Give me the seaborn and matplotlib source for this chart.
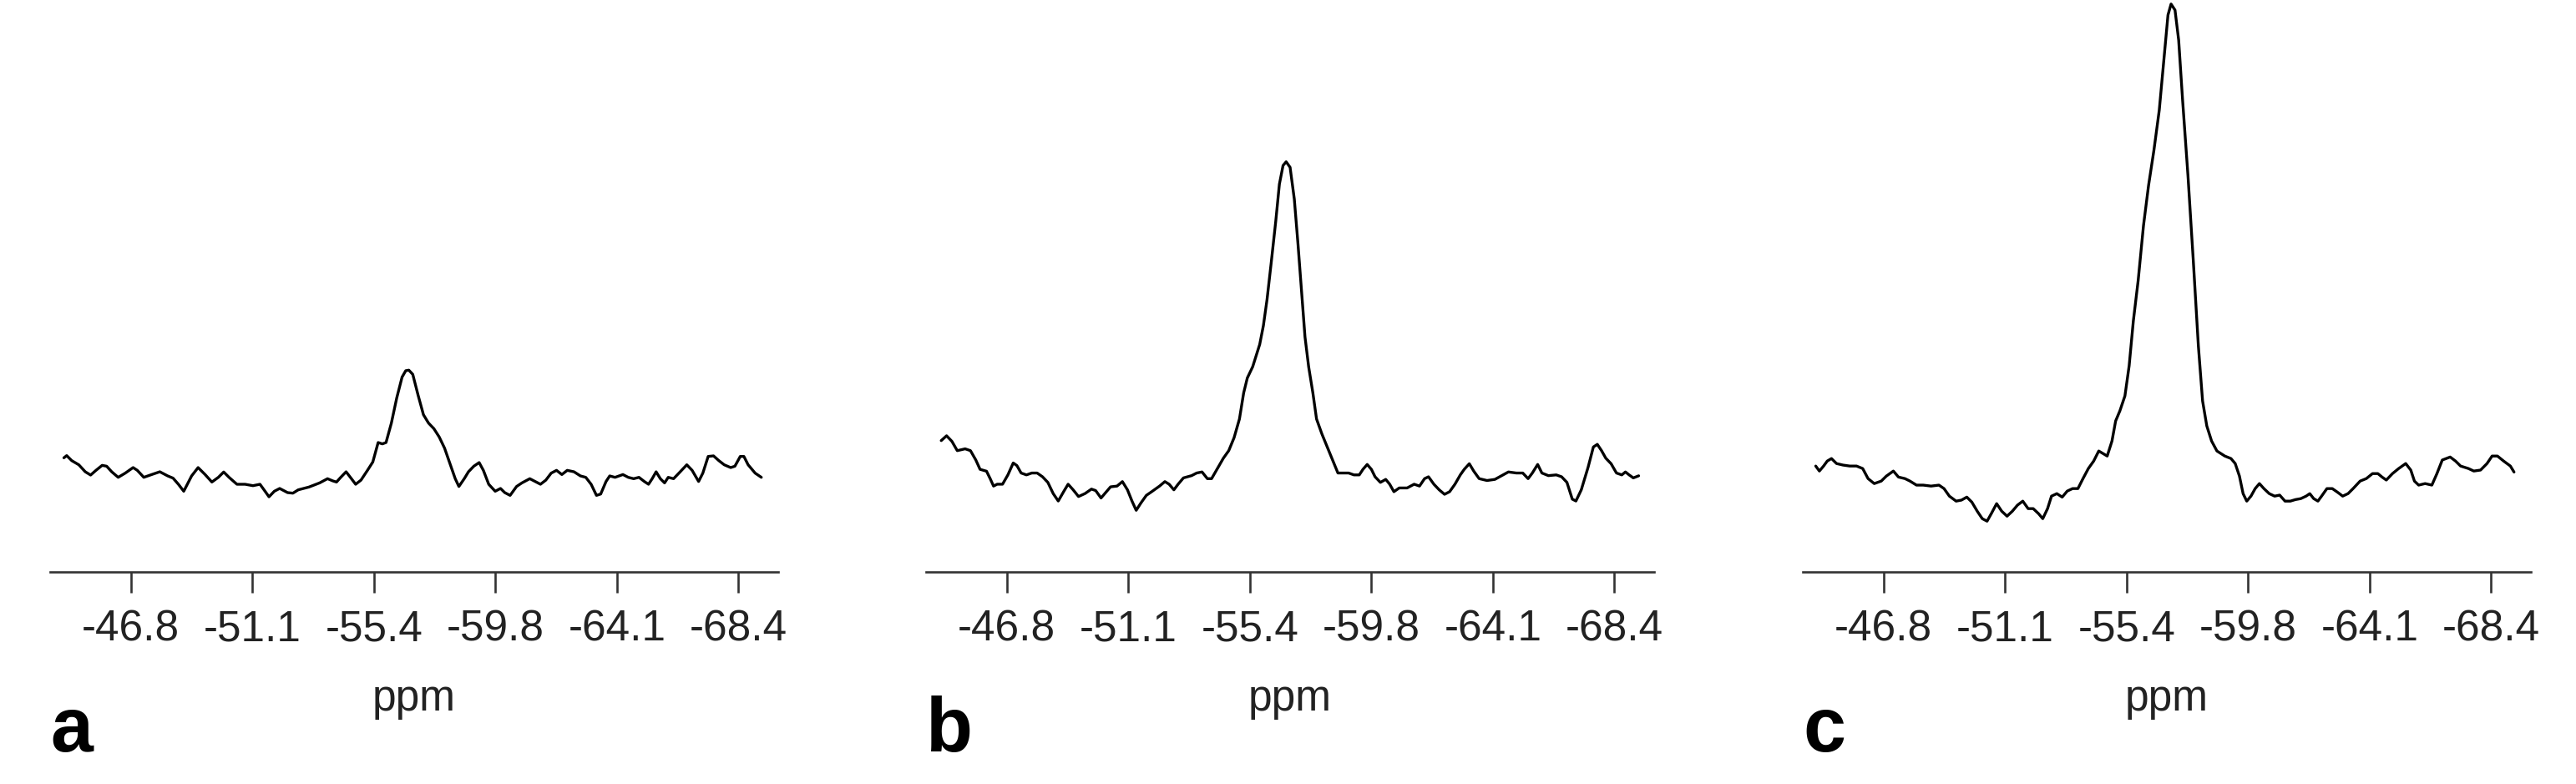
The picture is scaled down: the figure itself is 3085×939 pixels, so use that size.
import numpy as np
import pandas as pd
import matplotlib
matplotlib.use("Agg")
import matplotlib.pyplot as plt
import seaborn as sns

# spectrum a
ppm_a = [-44.42, -44.52, -44.70, -44.95, -45.18, -45.37, -45.56, -45.78, -45.94, -46.12,
         -46.35, -46.60, -46.88, -47.03, -47.26, -47.54, -47.83, -48.11, -48.30, -48.49,
         -48.68, -48.96, -49.19, -49.44, -49.68, -49.91, -50.10, -50.29, -50.57, -50.86,
         -51.14, -51.39, -51.57, -51.71, -51.90, -52.09, -52.37, -52.56, -52.75, -53.13,
         -53.51, -53.79, -53.98, -54.11, -54.26, -54.45, -54.64, -54.79, -54.98, -55.21,
         -55.40, -55.59, -55.74, -55.87, -56.06, -56.25, -56.44, -56.57, -56.68, -56.82,
         -57.01, -57.20, -57.38, -57.57, -57.76, -57.95, -58.14, -58.33, -58.46, -58.65,
         -58.80, -58.99, -59.18, -59.33, -59.52, -59.75, -59.94, -60.09, -60.28, -60.51,
         -60.70, -60.98, -61.17, -61.36, -61.55, -61.74, -61.93, -62.12, -62.31, -62.55,
         -62.78, -62.97, -63.16, -63.35, -63.50, -63.69, -63.82, -64.01, -64.29, -64.48,
         -64.67, -64.86, -65.05, -65.20, -65.33, -65.47, -65.62, -65.77, -65.90, -66.09,
         -66.28, -66.56, -66.75, -66.98, -67.13, -67.32, -67.51, -67.70, -67.89, -68.12,
         -68.27, -68.46, -68.59, -68.74, -68.99, -69.21]
int_a = [3.19, 3.58, 2.69, 1.96, 0.73, 0.15, 0.98, 1.86, 1.71, 0.73,
         -0.25, 0.49, 1.47, 0.98, -0.25, 0.24, 0.73, 0.00, -0.39, -1.47,
         -2.70, 0.00, 1.47, 0.24, -1.08, -0.25, 0.69, -0.25, -1.47, -1.47,
         -1.72, -1.47, -2.70, -3.68, -2.70, -2.21, -2.94, -3.04, -2.45, -1.96,
         -1.23, -0.49, -0.88, -1.08, -0.25, 0.73, -0.49, -1.47, -0.74, 0.98,
         2.45, 5.88, 5.64, 5.88, 9.31, 13.72, 17.40, 18.53, 18.63, 17.89,
         14.21, 10.78, 9.31, 8.33, 6.86, 4.90, 2.20, -0.49, -1.86, -0.49,
         0.73, 1.71, 2.35, 0.98, -1.47, -2.70, -2.21, -2.94, -3.43, -1.86,
         -1.23, -0.49, -0.98, -1.47, -0.74, 0.49, 0.98, 0.24, 0.98, 0.73,
         0.00, -0.25, -1.47, -3.43, -3.19, -0.98, 0.00, -0.25, 0.24, -0.25,
         -0.49, -0.25, -0.98, -1.47, -0.49, 0.73, -0.49, -1.23, -0.25, -0.49,
         0.49, 1.96, 0.98, -0.98, 0.49, 3.43, 3.53, 2.69, 1.96, 1.47,
         1.71, 3.43, 3.43, 1.96, 0.49, -0.25]

# spectrum b
ppm_b = [-44.47, -44.66, -44.85, -45.04, -45.32, -45.51, -45.70, -45.85, -46.08, -46.21,
         -46.33, -46.46, -46.65, -46.84, -47.03, -47.16, -47.31, -47.50, -47.69, -47.88,
         -48.07, -48.26, -48.45, -48.63, -48.82, -48.98, -49.16, -49.35, -49.58, -49.81,
         -49.96, -50.15, -50.34, -50.49, -50.72, -50.91, -51.09, -51.25, -51.40, -51.57,
         -51.76, -51.95, -52.23, -52.42, -52.57, -52.74, -52.89, -53.08, -53.37, -53.55,
         -53.74, -53.93, -54.08, -54.31, -54.50, -54.69, -54.88, -55.07, -55.22, -55.35,
         -55.54, -55.79, -55.92, -56.05, -56.20, -56.36, -56.49, -56.62, -56.73, -56.87,
         -57.02, -57.15, -57.28, -57.40, -57.53, -57.68, -57.81, -58.00, -58.19, -58.38,
         -58.57, -58.76, -58.95, -59.14, -59.33, -59.46, -59.61, -59.76, -59.89, -60.08,
         -60.27, -60.41, -60.56, -60.75, -61.03, -61.28, -61.47, -61.65, -61.79, -61.98,
         -62.17, -62.36, -62.54, -62.73, -62.92, -63.06, -63.24, -63.40, -63.59, -63.87,
         -64.15, -64.44, -64.63, -64.91, -65.14, -65.33, -65.48, -65.67, -65.82, -66.05,
         -66.33, -66.52, -66.71, -66.90, -67.03, -67.22, -67.46, -67.65, -67.79, -67.94,
         -68.09, -68.28, -68.47, -68.66, -68.79, -68.92, -69.07, -69.26]
int_b = [6.22, 7.07, 6.09, 4.45, 4.77, 4.45, 2.80, 1.16, 0.83, -0.48,
         -1.79, -1.46, -1.46, 0.18, 2.28, 1.82, 0.51, 0.18, 0.51, 0.51,
         -0.15, -1.14, -3.11, -4.42, -2.78, -1.46, -2.45, -3.63, -3.11, -2.32,
         -2.58, -3.89, -2.78, -1.92, -1.79, -1.00, -2.45, -4.42, -6.06, -4.75,
         -3.43, -2.78, -1.79, -1.00, -1.46, -2.45, -1.46, -0.35, 0.05, 0.51,
         0.70, -0.48, -0.48, 1.49, 3.13, 4.45, 6.74, 10.03, 14.62, 17.25,
         19.22, 23.16, 26.44, 31.04, 37.60, 44.83, 51.39, 54.67, 55.33, 54.35,
         48.77, 40.89, 32.35, 24.47, 19.22, 14.62, 10.03, 7.40, 5.10, 2.80,
         0.51, 0.51, 0.51, 0.18, 0.18, 1.16, 2.02, 1.16, -0.15, -1.14,
         -0.61, -1.46, -2.78, -2.12, -2.12, -1.46, -1.79, -0.48, -0.15, -1.46,
         -2.45, -3.24, -2.78, -1.46, 0.18, 1.16, 2.15, 0.83, -0.48, -0.81,
         -0.61, 0.18, 0.70, 0.51, 0.51, -0.48, 0.51, 2.02, 0.51, 0.05,
         0.18, -0.15, -1.14, -4.09, -4.42, -2.45, 1.49, 5.10, 5.56, 4.45,
         3.13, 2.15, 0.51, 0.18, 0.70, 0.18, -0.35, 0.02]

# spectrum c
ppm_c = [-44.39, -44.52, -44.67, -44.80, -44.95, -45.13, -45.36, -45.60, -45.84, -46.06,
         -46.25, -46.47, -46.72, -46.90, -47.15, -47.33, -47.56, -47.74, -47.97, -48.21,
         -48.49, -48.77, -48.95, -49.14, -49.38, -49.57, -49.76, -49.94, -50.13, -50.31,
         -50.48, -50.63, -50.82, -51.00, -51.19, -51.38, -51.56, -51.75, -51.94, -52.12,
         -52.31, -52.46, -52.63, -52.77, -52.96, -53.15, -53.33, -53.52, -53.71, -53.89,
         -54.08, -54.27, -54.45, -54.60, -54.75, -54.92, -55.05, -55.20, -55.38, -55.53,
         -55.68, -55.85, -56.04, -56.22, -56.41, -56.60, -56.78, -56.91, -57.02, -57.16,
         -57.29, -57.43, -57.62, -57.81, -57.99, -58.14, -58.29, -58.46, -58.65, -58.93,
         -59.15, -59.30, -59.45, -59.58, -59.71, -59.86, -60.01, -60.16, -60.32, -60.51,
         -60.70, -60.88, -61.07, -61.26, -61.44, -61.63, -61.82, -61.95, -62.09, -62.24,
         -62.37, -62.56, -62.75, -62.93, -63.12, -63.31, -63.49, -63.74, -63.96, -64.18,
         -64.37, -64.52, -64.67, -64.89, -65.11, -65.36, -65.54, -65.67, -65.82, -66.05,
         -66.29, -66.47, -66.66, -66.94, -67.13, -67.31, -67.59, -67.78, -68.02, -68.25,
         -68.43, -68.62, -68.84, -69.08, -69.21]
int_c = [1.74, 0.86, 1.74, 2.62, 3.06, 2.18, 1.91, 1.74, 1.74, 1.30,
         -0.47, -1.35, -0.91, -0.03, 0.86, -0.20, -0.47, -0.91, -1.62, -1.62,
         -1.79, -1.62, -2.23, -3.56, -4.44, -4.26, -3.73, -4.62, -6.21, -7.53,
         -7.97, -6.65, -4.88, -6.21, -7.09, -6.21, -5.15, -4.44, -5.76, -5.76,
         -6.65, -7.53, -5.76, -3.56, -3.12, -3.73, -2.67, -2.23, -2.23, -0.47,
         1.30, 2.62, 4.39, 3.94, 3.50, 6.15, 9.68, 11.45, 14.09, 19.39,
         27.33, 34.39, 44.10, 51.16, 57.34, 64.40, 74.11, 81.17, 83.11, 82.05,
         76.76, 66.17, 52.93, 37.92, 22.92, 13.21, 8.80, 6.15, 4.39, 3.50,
         3.06, 2.18, -0.03, -3.12, -4.44, -3.56, -2.23, -1.35, -2.23, -3.12,
         -3.56, -3.38, -4.44, -4.44, -4.17, -4.00, -3.56, -3.12, -4.00, -4.44,
         -3.56, -2.23, -2.23, -2.85, -3.56, -3.12, -2.23, -0.91, -0.47, 0.41,
         0.41, -0.20, -0.73, 0.41, 1.30, 2.18, 1.03, -0.91, -1.62, -1.35,
         -1.62, 0.41, 2.80, 3.33, 2.62, 1.74, 1.30, 0.86, 1.03, 2.18,
         3.50, 3.50, 2.62, 1.74, 0.68]

tick_ppm = [-46.8, -51.12, -55.44, -59.76, -64.08, -68.4]
tick_labels = ["-46.8", "-51.1", "-55.4", "-59.8", "-64.1", "-68.4"]
panel_letters = ["a", "b", "c"]

sns.set_style("white")
plt.rcParams['font.family'] = ['Liberation Sans', 'DejaVu Sans']

W, H = 3085, 939
fig = plt.figure(figsize=(W / 100, H / 100), dpi=100)

spectra = [(ppm_a, int_a), (ppm_b, int_b), (ppm_c, int_c)]
lefts = [60, 1109, 2159]

for (ppm, inten), left, letter in zip(spectra, lefts, panel_letters):
    ax = fig.add_axes([left / W, (H - 685) / H, 872 / W, 685 / H])
    df = pd.DataFrame({"ppm": ppm, "intensity": inten})
    sns.lineplot(data=df, x="ppm", y="intensity", ax=ax, color="black",
                 linewidth=2.4, estimator=None, sort=False)
    ax.set_xlim(-43.93, -69.81)
    ax.set_ylim(-16.91, 83.82)
    ax.set_yticks([])
    ax.set_ylabel("")
    ax.set_xticks(tick_ppm)
    ax.set_xticklabels(tick_labels)
    ax.tick_params(axis="x", bottom=True, length=18, width=1.9, color="#333333",
                   labelsize=37, labelcolor="#222222", pad=14, direction="out")
    ax.set_xlabel("ppm", fontsize=37, color="#222222", labelpad=25)
    for side in ["left", "top", "right"]:
        ax.spines[side].set_visible(False)
    ax.spines["bottom"].set_linewidth(1.9)
    ax.spines["bottom"].set_color("#333333")
    ax.patch.set_alpha(0)
    fig.text(left / W, (H - 900) / H, letter, fontsize=66, fontweight="bold",
             ha="left", va="baseline", color="black")

fig.savefig("out.png", dpi=100)
